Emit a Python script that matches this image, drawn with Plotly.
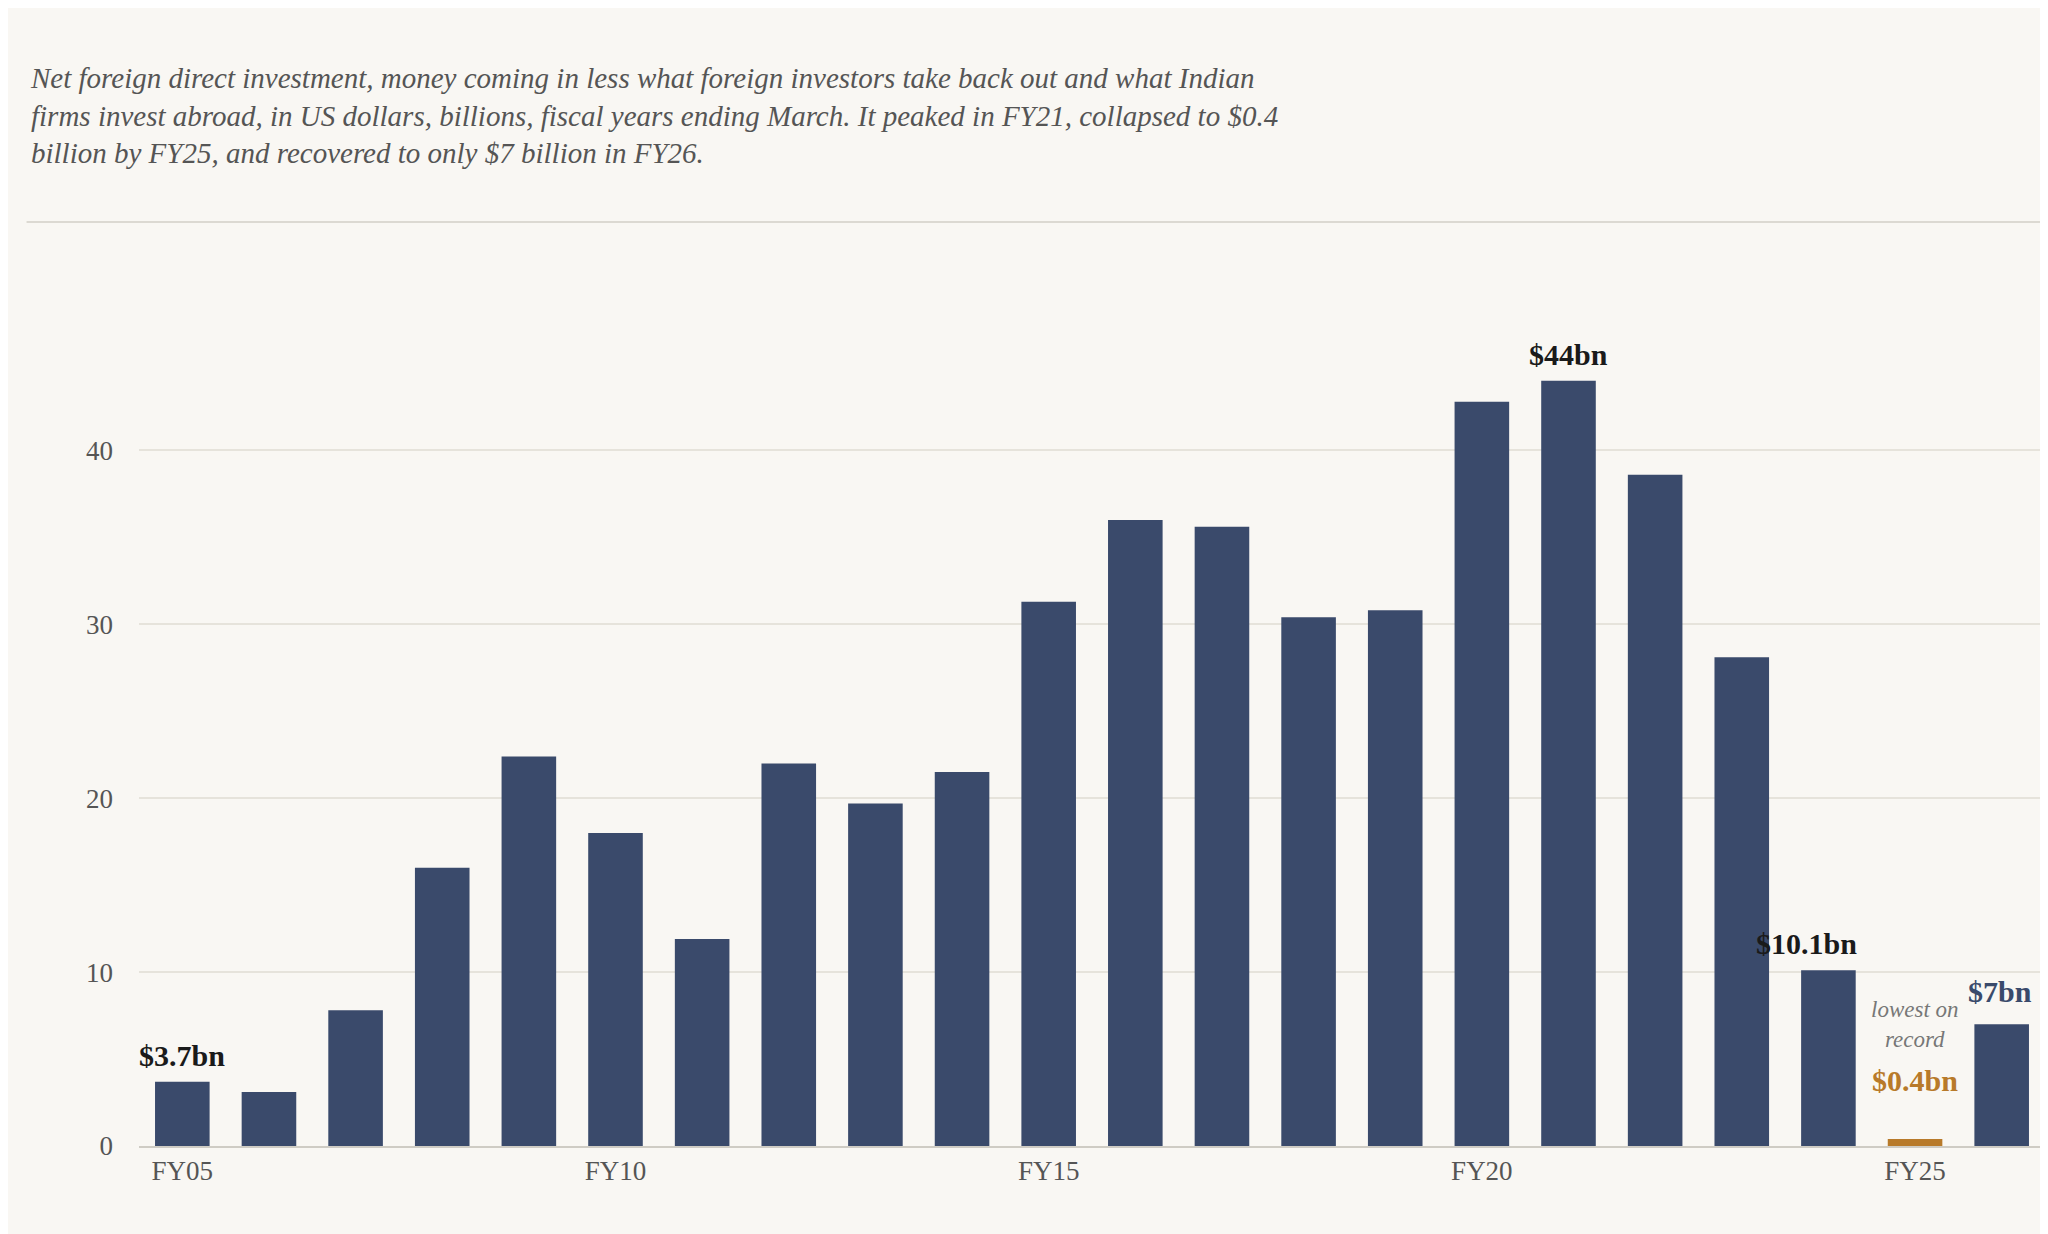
import plotly.graph_objects as go

years = ["FY05", "FY06", "FY07", "FY08", "FY09", "FY10", "FY11", "FY12", "FY13", "FY14", "FY15",
         "FY16", "FY17", "FY18", "FY19", "FY20", "FY21", "FY22", "FY23", "FY24", "FY25", "FY26"]
net_fdi = [3.7, 3.1, 7.8, 16.0, 22.4, 18.0, 11.9, 22.0, 19.7, 21.5, 31.3,
           36.0, 35.6, 30.4, 30.8, 42.8, 44.0, 38.6, 28.1, 10.1, 0.4, 7.0]
tick_years = ["FY05", "FY10", "FY15", "FY20", "FY25"]

navy = "#3a4a6b"
orange = "#b87a2a"
bg = "#f9f7f3"
serif = "Liberation Serif"

colors = [orange if y == "FY25" else navy for y in years]
x = list(range(len(years)))

fig = go.Figure(go.Bar(x=x, y=net_fdi, marker=dict(color=colors, line=dict(width=0)),
                       hoverinfo="skip"))

def label(year, text, color="#1a1a1a", size=30, dy=0, dx=0, italic=False, bold=True):
    i = years.index(year)
    t = f"<b>{text}</b>" if bold else text
    if italic:
        t = f"<i>{t}</i>"
    fig.add_annotation(x=i, y=net_fdi[i], text=t, showarrow=False, yanchor="bottom",
                       xshift=dx, yshift=dy, font=dict(family=serif, size=size, color=color))

label("FY05", "$3.7bn", dy=8)
label("FY21", "$44bn", dy=8)
label("FY24", "$10.1bn", dy=8, dx=-22)
label("FY25", "$0.4bn", color=orange, dy=40)
label("FY25", "lowest on<br>record", color="#777", size=23, dy=85, italic=True, bold=False)
label("FY26", "$7bn", color=navy, dy=14, dx=-2)

fig.add_annotation(
    xref="paper", yref="paper", x=-0.058, y=1.0, xanchor="left", yanchor="bottom", yshift=175,
    showarrow=False, align="left",
    text="<i>Net foreign direct investment, money coming in less what foreign investors take back out and what Indian<br>"
         "firms invest abroad, in US dollars, billions, fiscal years ending March. It peaked in FY21, collapsed to $0.4<br>"
         "billion by FY25, and recovered to only $7 billion in FY26.</i>",
    font=dict(family=serif, size=29, color="#555"))

fig.add_shape(type="line", xref="paper", yref="paper", x0=-0.059, x1=1.01, y0=1.155, y1=1.155,
              line=dict(color="#dcd9d2", width=2))

fig.update_layout(
    width=2048, height=1234,
    paper_bgcolor=bg, plot_bgcolor=bg,
    margin=dict(l=131, r=11, t=338, b=96),
    bargap=0.37, showlegend=False,
    xaxis=dict(range=[-0.5, 21.5], tickvals=[years.index(t) for t in tick_years], ticktext=tick_years,
               showgrid=False, zeroline=False, showline=True, linecolor="#cfccc4", linewidth=2,
               tickfont=dict(family=serif, size=27, color="#555"), ticks=""),
    yaxis=dict(range=[0, 46], tickvals=[0, 10, 20, 30, 40], showgrid=True, gridcolor="#e6e3db",
               gridwidth=1.5, zeroline=False, ticks="", ticklabelstandoff=25,
               tickfont=dict(family=serif, size=27, color="#555")),
)

fig.write_html("out.html")
